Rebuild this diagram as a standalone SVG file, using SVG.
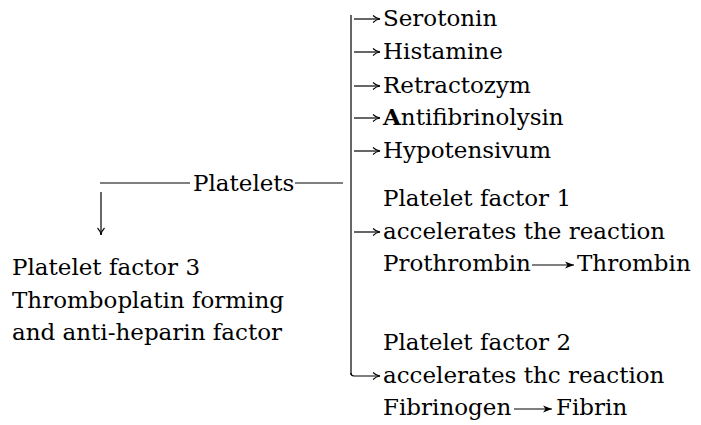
<svg xmlns="http://www.w3.org/2000/svg" width="701" height="425" viewBox="0 0 701 425">
<defs>
<marker id="ah" markerWidth="9" markerHeight="8" refX="8" refY="4" orient="auto" markerUnits="userSpaceOnUse">
<path d="M1,0.5 Q4,3.5 8,4 Q4,4.5 1,7.5" fill="none" stroke="#000" stroke-width="1.1"/>
</marker>
<marker id="ahf" markerWidth="10" markerHeight="8" refX="9" refY="4" orient="auto" markerUnits="userSpaceOnUse">
<path d="M0,0.5 L9,4 L0,7.5 L2.5,4 Z" fill="#000"/>
</marker>
<style>
text{font-family:"DejaVu Serif","Liberation Serif",serif;font-size:23px;fill:#000}
.ln{stroke:#000;stroke-width:1.2;fill:none}
</style>
</defs>
<rect width="701" height="425" fill="#fff"/>
<g id="connectors">
<path class="ln" d="M100,183 H190"/>
<path class="ln" d="M295,183 H343"/>
<path class="ln" d="M101,192 V235" marker-end="url(#ah)"/>
<path class="ln" d="M351,15 V375"/>
<path class="ln" d="M354,19 H380" marker-end="url(#ah)"/>
<path class="ln" d="M354,52 H380" marker-end="url(#ah)"/>
<path class="ln" d="M354,86 H380" marker-end="url(#ah)"/>
<path class="ln" d="M354,118 H380" marker-end="url(#ah)"/>
<path class="ln" d="M354,151 H380" marker-end="url(#ah)"/>
<path class="ln" d="M354,232 H380" marker-end="url(#ah)"/>
<path class="ln" d="M351,373 Q351,376 354,376 H380" marker-end="url(#ah)"/>
<path class="ln" d="M532,265 H574" marker-end="url(#ahf)"/>
<path class="ln" d="M514,409 H552" marker-end="url(#ahf)"/>
</g>
<g id="platelets"><text x="193" y="191">Platelets</text></g>
<g id="serotonin"><text x="383" y="26">Serotonin</text></g>
<g id="histamine"><text x="383" y="59">Histamine</text></g>
<g id="retractozym"><text x="383" y="93">Retractozym</text></g>
<g id="antifibrinolysin"><text x="383" y="125"><tspan font-weight="bold">A</tspan>ntifibrinolysin</text></g>
<g id="hypotensivum"><text x="383" y="158">Hypotensivum</text></g>
<g id="pf1">
<text x="383" y="206">Platelet factor 1</text>
<text x="383" y="239">accelerates the reaction</text>
<text x="383" y="271">Prothrombin</text>
<text x="577" y="271">Thrombin</text>
</g>
<g id="pf2">
<text x="383" y="350">Platelet factor 2</text>
<text x="383" y="383">accelerates thc reaction</text>
<text x="383" y="415">Fibrinogen</text>
<text x="556" y="415">Fibrin</text>
</g>
<g id="pf3">
<text x="12" y="275">Platelet factor 3</text>
<text x="12" y="308">Thromboplatin forming</text>
<text x="12" y="340">and anti-heparin factor</text>
</g>
</svg>
